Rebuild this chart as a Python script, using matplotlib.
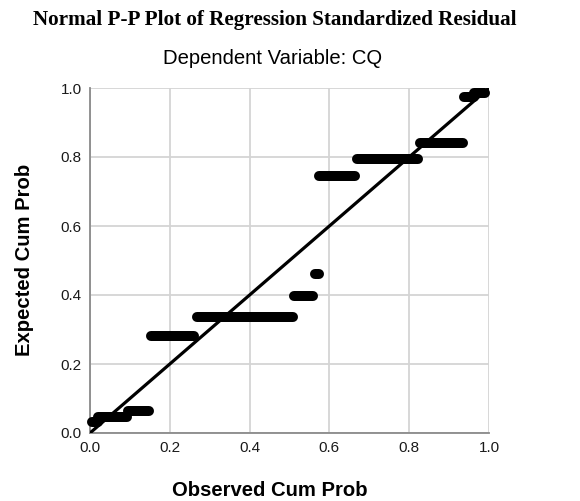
import matplotlib
matplotlib.use("Agg")
import matplotlib.pyplot as plt

# horizontal runs of tied residuals: (start observed, end observed, expected)
run_x0 = [0.006, 0.020, 0.095, 0.154, 0.267, 0.512, 0.563, 0.575, 0.668, 0.826, 0.938, 0.962]
run_x1 = [0.020, 0.093, 0.149, 0.260, 0.510, 0.558, 0.575, 0.663, 0.823, 0.934, 0.962, 0.990]
run_y = [0.033, 0.047, 0.065, 0.282, 0.337, 0.397, 0.460, 0.746, 0.794, 0.840, 0.974, 0.986]

ticks = [0.0, 0.2, 0.4, 0.6, 0.8, 1.0]
tick_labels = ["0.0", "0.2", "0.4", "0.6", "0.8", "1.0"]

fig = plt.figure(figsize=(5.8, 5.01), dpi=100)
ax = fig.add_axes([90/580, 68/501, 399/580, 345/501])

ax.set_xlim(0, 1)
ax.set_ylim(0, 1)
ax.set_xticks(ticks)
ax.set_yticks(ticks)
ax.set_xticklabels(tick_labels)
ax.set_yticklabels(tick_labels)
ax.grid(True, color="#d4d4d4", linewidth=1.3)
ax.set_axisbelow(True)
for s in ["top", "right"]:
    ax.spines[s].set_visible(False)
for s in ["left", "bottom"]:
    ax.spines[s].set_color("#8a8a8a")
    ax.spines[s].set_linewidth(1.3)
ax.tick_params(length=0, labelsize=11, colors="#1a1a1a")
ax.tick_params(axis="y", pad=6)
ax.tick_params(axis="x", pad=6)
for lab in ax.get_xticklabels() + ax.get_yticklabels():
    lab.set_family("Liberation Sans")

# reference line
ax.plot([0, 1], [0, 1], color="black", linewidth=2.3, zorder=3)

for x0, x1, y in zip(run_x0, run_x1, run_y):
    ax.plot([x0, x1], [y, y], color="black", linewidth=7.2, solid_capstyle="round",
            clip_on=False, zorder=4)

fig.text(275/580, 1 - 20/501, "Normal P-P Plot of Regression Standardized Residual",
         ha="center", va="center", family="Liberation Serif", fontweight="bold", fontsize=15.2)
fig.text(273/580, 1 - 58/501, "Dependent Variable: CQ", ha="center", va="center",
         family="Liberation Sans", fontsize=14.6)
fig.text(270/580, 1 - 490/501, "Observed Cum Prob", ha="center", va="center",
         family="Liberation Sans", fontweight="bold", fontsize=14.6)
fig.text(25/580, 1 - 260/501, "Expected Cum Prob", ha="center", va="center", rotation=90,
         family="Liberation Sans", fontweight="bold", fontsize=14.6)

fig.savefig("out.png", dpi=100, facecolor="white")
